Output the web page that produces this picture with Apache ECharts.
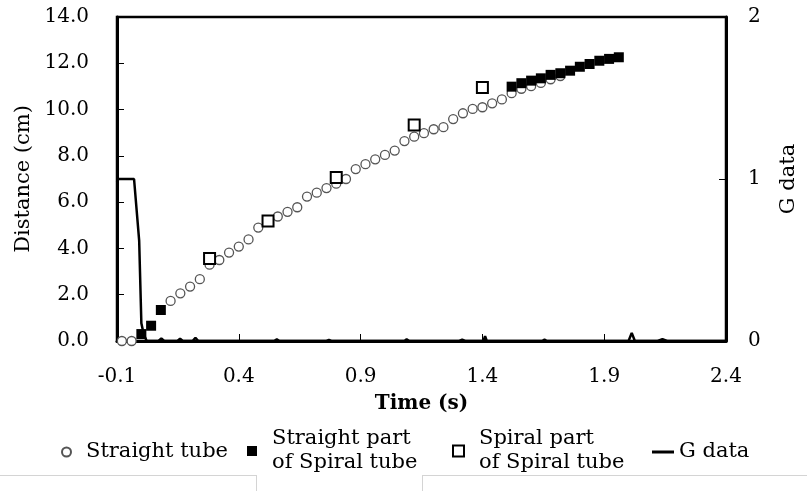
<!DOCTYPE html>
<html>
<head>
<meta charset="utf-8">
<script src="https://cdn.jsdelivr.net/npm/echarts@6/dist/echarts.min.js"></script>
<style>
  html, body { margin: 0; padding: 0; background: #fff; }
  #chart { width: 807px; height: 491px; }
</style>
</head>
<body>
<div id="chart"></div>
<script>
// Straight tube (open circles)
const straightTime = [-0.08, -0.04, 0.12, 0.16, 0.20, 0.24, 0.28, 0.32, 0.36, 0.40, 0.44, 0.48, 0.52, 0.56,
  0.60, 0.64, 0.68, 0.72, 0.76, 0.80, 0.84, 0.88, 0.92, 0.96, 1.00, 1.04, 1.08, 1.12, 1.16, 1.20, 1.24,
  1.28, 1.32, 1.36, 1.40, 1.44, 1.48, 1.52, 1.56, 1.60, 1.64, 1.68, 1.72];
const straightDist = [0, 0, 1.73, 2.06, 2.35, 2.67, 3.3, 3.5, 3.82, 4.08, 4.39, 4.9, 5.15, 5.38,
  5.58, 5.78, 6.24, 6.41, 6.61, 6.8, 7.0, 7.43, 7.64, 7.85, 8.04, 8.23, 8.64, 8.83, 8.98, 9.15, 9.24,
  9.59, 9.84, 10.03, 10.1, 10.27, 10.44, 10.71, 10.9, 11.01, 11.15, 11.31, 11.45];

// Straight part of Spiral tube (filled squares)
const sPartTime = [0.00, 0.04, 0.08, 1.52, 1.56, 1.60, 1.64, 1.68, 1.72, 1.76, 1.80, 1.84, 1.88, 1.92, 1.96];
const sPartDist = [0.3, 0.66, 1.34, 10.99, 11.14, 11.25, 11.35, 11.5, 11.57, 11.68, 11.85, 11.97, 12.11, 12.19, 12.26];

// Spiral part of Spiral tube (open squares)
const spiralTime = [0.28, 0.52, 0.80, 1.12, 1.40];
const spiralDist = [3.57, 5.19, 7.07, 9.33, 10.95];

// G data (right axis)
const gTime = [-0.1, -0.095, -0.03, -0.023, -0.009, 0.0, 0.01, 0.022, 0.07, 0.082, 0.094,
  0.148, 0.159, 0.17, 0.21, 0.222, 0.234, 0.545, 0.556, 0.567, 0.76, 0.77, 0.78, 1.08, 1.089, 1.1,
  1.305, 1.317, 1.329, 1.404, 1.411, 1.418, 1.645, 1.655, 1.665, 2.0, 2.013, 2.026, 2.12, 2.139, 2.158, 2.4];
const gValue = [0.98, 1.0, 1.0, 0.99, 0.62, 0.11, 0.04, 0, 0, 0.015, 0,
  0, 0.015, 0, 0, 0.02, 0, 0, 0.01, 0, 0, 0.006, 0, 0, 0.01, 0,
  0, 0.008, 0, 0, 0.03, 0, 0, 0.008, 0, 0, 0.05, 0, 0, 0.012, 0, 0];

const xTicks = { min: -0.1, max: 2.4, step: 0.5 };

const zip = (a, b) => a.map((v, i) => [v, b[i]]);

const FONT = 'DejaVu Serif';
const chart = echarts.init(document.getElementById('chart'));

const legendNames = {
  'Straight tube': 'Straight tube',
  'Straight part': 'Straight part\nof Spiral tube',
  'Spiral part': 'Spiral part\nof Spiral tube',
  'G data': 'G data'
};
const legendBase = {
  orient: 'horizontal',
  selectedMode: false,
  formatter: n => legendNames[n],
  textStyle: { fontFamily: FONT, fontSize: 21, color: '#000', lineHeight: 24, padding: [0, 0, 0, 10] }
};

const option = {
  animation: false,
  backgroundColor: '#fff',
  grid: { left: 117, right: 76, top: 17, bottom: 150, show: true, borderColor: '#000', borderWidth: 2.5 },
  xAxis: {
    type: 'value',
    min: xTicks.min, max: xTicks.max, interval: xTicks.step,
    name: 'Time (s)', nameLocation: 'middle', nameGap: 53,
    nameTextStyle: { fontFamily: FONT, fontSize: 20, fontWeight: 'bold', color: '#000' },
    axisLine: { onZero: false, lineStyle: { color: '#000', width: 3 } },
    axisTick: { inside: true, length: 7, lineStyle: { color: '#000', width: 1 } },
    axisLabel: { fontFamily: FONT, fontSize: 20, color: '#000', margin: 26, formatter: v => v.toFixed(1) },
    splitLine: { show: false }
  },
  yAxis: [{
    type: 'value', min: 0, max: 14, interval: 2,
    name: 'Distance (cm)', nameLocation: 'middle', nameGap: 81, nameRotate: 90,
    nameTextStyle: { fontFamily: FONT, fontSize: 21, color: '#000' },
    axisLine: { show: true, onZero: false, lineStyle: { color: '#000', width: 3 } },
    axisTick: { show: true, inside: true, length: 7, lineStyle: { color: '#000', width: 1 } },
    axisLabel: { fontFamily: FONT, fontSize: 20, color: '#000', margin: 28, formatter: v => v.toFixed(1) },
    splitLine: { show: false }
  }, {
    type: 'value', min: 0, max: 2, interval: 1, position: 'right',
    name: 'G data', nameLocation: 'middle', nameGap: 52, nameRotate: 90,
    nameTextStyle: { fontFamily: FONT, fontSize: 21, color: '#000' },
    axisLine: { show: true, onZero: false, lineStyle: { color: '#000', width: 3 } },
    axisTick: { show: true, inside: true, length: 7, lineStyle: { color: '#000', width: 1 } },
    axisLabel: { fontFamily: FONT, fontSize: 20, color: '#000', margin: 22 },
    splitLine: { show: false }
  }],
  legend: [
    Object.assign({}, legendBase, { data: ['Straight tube'], left: 56, top: 435, itemWidth: 9, itemHeight: 9 }),
    Object.assign({}, legendBase, { data: ['Straight part'], left: 242, top: 422, itemWidth: 10, itemHeight: 10 }),
    Object.assign({}, legendBase, { data: ['Spiral part'], left: 447, top: 422, itemWidth: 11, itemHeight: 11 }),
    Object.assign({}, legendBase, { data: [{ name: 'G data', icon: 'rect' }], left: 647, top: 435, itemWidth: 22, itemHeight: 3,
      textStyle: Object.assign({}, legendBase.textStyle, { padding: [0, 0, 0, 0] }) })
  ],
  series: [{
    name: 'Straight tube', type: 'scatter', symbol: 'circle', symbolSize: 9,
    data: zip(straightTime, straightDist),
    itemStyle: { color: '#fff', borderColor: '#555', borderWidth: 1.3, opacity: 1 }
  }, {
    name: 'Straight part', type: 'scatter', symbol: 'rect', symbolSize: 10,
    data: zip(sPartTime, sPartDist),
    itemStyle: { color: '#000', opacity: 1 }
  }, {
    name: 'Spiral part', type: 'scatter', symbol: 'rect', symbolSize: 11,
    data: zip(spiralTime, spiralDist),
    itemStyle: { color: '#fff', borderColor: '#000', borderWidth: 2, opacity: 1 }
  }, {
    name: 'G data', type: 'line', yAxisIndex: 1, showSymbol: false, symbol: 'none',
    data: zip(gTime, gValue),
    color: '#000',
    lineStyle: { color: '#000', width: 2.5 }
  }],
  graphic: [
    { type: 'line', shape: { x1: 0, y1: 475.5, x2: 256, y2: 475.5 }, style: { stroke: '#d4d4d4', lineWidth: 1 } },
    { type: 'line', shape: { x1: 422, y1: 475.5, x2: 807, y2: 475.5 }, style: { stroke: '#d4d4d4', lineWidth: 1 } },
    { type: 'line', shape: { x1: 256.5, y1: 475, x2: 256.5, y2: 491 }, style: { stroke: '#d4d4d4', lineWidth: 1 } },
    { type: 'line', shape: { x1: 422.5, y1: 475, x2: 422.5, y2: 491 }, style: { stroke: '#d4d4d4', lineWidth: 1 } }
  ]
};

chart.setOption(option);
</script>
</body>
</html>
